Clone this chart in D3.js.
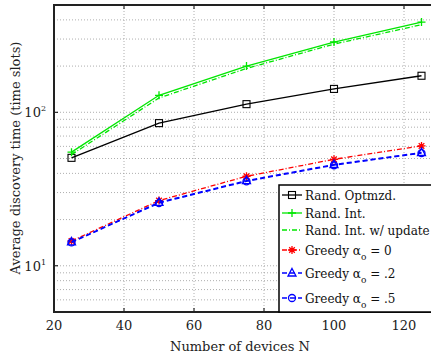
<!DOCTYPE html>
<html>
<head>
<meta charset="utf-8">
<script src="https://cdn.jsdelivr.net/npm/d3@7"></script>
<style>
  body { margin: 0; background: #fff; }
  svg { display: block; font-family: "DejaVu Serif", "Liberation Serif", serif; }
</style>
</head>
<body>
<div class="chart"></div>
<script>
const devices = [25, 50, 75, 100, 125];
const randOptmzd = [50.5, 85, 113, 142, 173];
const randInt = [55, 129, 200, 287, 387];
const randIntUpdate = [53, 124, 193, 278, 372];
const greedy0 = [14.5, 26.6, 38.3, 49.4, 60.4];
const greedy2 = [14.3, 25.9, 35.9, 45.7, 54.7];
const greedy5 = [14.2, 25.6, 35.5, 45.2, 54.2];
const xTicks = [20, 40, 60, 80, 100, 120];

const series = [
  { name: "Rand. Optmzd.", values: randOptmzd, color: "#000", dash: null, marker: "square" },
  { name: "Rand. Int.", values: randInt, color: "#00e600", dash: null, marker: "plus" },
  { name: "Rand. Int. w/ update", values: randIntUpdate, color: "#00e600", dash: "5,2,1,2", marker: null },
  { name: "Greedy α|o| = 0", values: greedy0, color: "#ff0000", dash: "5,2,1,2", marker: "star" },
  { name: "Greedy α|o| = .2", values: greedy2, color: "#0000ff", dash: "5,3", marker: "triangle" },
  { name: "Greedy α|o| = .5", values: greedy5, color: "#0000ff", dash: "5,3", marker: "circle" },
];

const width = 431;
const height = 355;
const plotLeft = 54, plotTop = 5, plotBottom = 312;

const svg = d3.select(".chart").append("svg")
  .attr("width", width).attr("height", height);

const xScale = d3.scaleLinear().domain([20, 130]).range([plotLeft, 439]);
const yScale = d3.scaleLog().domain([5, 500]).range([plotBottom, plotTop]);

// gridlines
const minorY = [];
for (const dec of [1, 10, 100]) for (let k = 1; k < 10; k++) {
  const v = k * dec;
  if (v > 5 && v < 500) minorY.push(v);
}
svg.append("g").selectAll("line").data(minorY).join("line")
  .attr("x1", plotLeft).attr("x2", width)
  .attr("y1", d => yScale(d)).attr("y2", d => yScale(d))
  .attr("stroke", "#999").attr("stroke-width", 0.8).attr("stroke-dasharray", "1,2");

svg.append("g").selectAll("line").data(xTicks.slice(1)).join("line")
  .attr("x1", d => xScale(d)).attr("x2", d => xScale(d))
  .attr("y1", plotTop).attr("y2", plotBottom)
  .attr("stroke", "#999").attr("stroke-width", 0.8).attr("stroke-dasharray", "1,2");

// ticks inward
const tickG = svg.append("g").attr("stroke", "#000").attr("stroke-width", 1);
xTicks.slice(1).forEach(t => {
  tickG.append("line").attr("x1", xScale(t)).attr("x2", xScale(t)).attr("y1", plotTop).attr("y2", plotTop + 4);
  tickG.append("line").attr("x1", xScale(t)).attr("x2", xScale(t)).attr("y1", plotBottom).attr("y2", plotBottom - 4);
});
[10, 100].forEach(t => {
  tickG.append("line").attr("x1", plotLeft).attr("x2", plotLeft + 4).attr("y1", yScale(t)).attr("y2", yScale(t));
});

// lines
const line = d3.line().x((d, i) => xScale(devices[i])).y(d => yScale(d));

const drawMarker = (g, type, x, y, color) => {
  const s = 3.5;
  if (type === "square") {
    g.append("rect").attr("x", x - s).attr("y", y - s).attr("width", 2 * s).attr("height", 2 * s)
      .attr("fill", "none").attr("stroke", color).attr("stroke-width", 1.1);
  } else if (type === "plus") {
    g.append("path").attr("d", `M${x - 4},${y}H${x + 4}M${x},${y - 4}V${y + 4}`)
      .attr("stroke", color).attr("stroke-width", 1.3);
  } else if (type === "star") {
    const r = 4;
    let d = `M${x - r},${y}H${x + r}M${x},${y - r}V${y + r}`;
    d += `M${x - r * 0.7},${y - r * 0.7}L${x + r * 0.7},${y + r * 0.7}M${x - r * 0.7},${y + r * 0.7}L${x + r * 0.7},${y - r * 0.7}`;
    g.append("path").attr("d", d).attr("stroke", color).attr("stroke-width", 1.3);
  } else if (type === "triangle") {
    g.append("path").attr("d", `M${x},${y - 4.5}L${x + 4},${y + 3}L${x - 4},${y + 3}Z`)
      .attr("fill", "none").attr("stroke", color).attr("stroke-width", 1.3);
  } else if (type === "circle") {
    g.append("circle").attr("cx", x).attr("cy", y).attr("r", 3.5)
      .attr("fill", "none").attr("stroke", color).attr("stroke-width", 1.3);
  }
};

const plot = svg.append("g");
series.forEach(s => {
  plot.append("path").datum(s.values).attr("d", line)
    .attr("fill", "none").attr("stroke", s.color).attr("stroke-width", 1.3)
    .attr("stroke-dasharray", s.dash);
  if (s.marker) s.values.forEach((v, i) => drawMarker(plot, s.marker, xScale(devices[i]), yScale(v), s.color));
});

// frame
svg.append("path")
  .attr("d", `M${width},${plotTop}H${plotLeft}V${plotBottom}H${width}`)
  .attr("fill", "none").attr("stroke", "#222").attr("stroke-width", 2);

// x tick labels
svg.append("g").selectAll("text").data(xTicks).join("text")
  .attr("x", d => xScale(d)).attr("y", 330)
  .attr("text-anchor", "middle").attr("font-size", 13).attr("fill", "#222")
  .text(d => d);

// y tick labels 10^1, 10^2
[[10, "1"], [100, "2"]].forEach(([v, e]) => {
  const t = svg.append("text").attr("x", 46).attr("y", yScale(v) + 5)
    .attr("text-anchor", "end").attr("font-size", 13).attr("fill", "#222");
  t.append("tspan").text("10");
  t.append("tspan").attr("dy", -6).attr("font-size", 8).text(e);
});

// axis labels
svg.append("text").attr("x", 240).attr("y", 351).attr("text-anchor", "middle")
  .attr("font-size", 13).attr("fill", "#222").text("Number of devices N");
svg.append("text").attr("transform", `translate(20, 158) rotate(-90)`)
  .attr("text-anchor", "middle").attr("font-size", 13).attr("fill", "#222")
  .text("Average discovery time (time slots)");

// legend
const lx = 279, ly = 185;
const legend = svg.append("g");
legend.append("rect").attr("x", lx).attr("y", ly).attr("width", 160).attr("height", plotBottom - ly)
  .attr("fill", "#fff").attr("stroke", "#000").attr("stroke-width", 1.5);
const rowY = [195, 213, 230, 250, 273, 298];
series.forEach((s, i) => {
  const y = rowY[i];
  legend.append("line").attr("x1", lx + 3).attr("x2", lx + 23).attr("y1", y).attr("y2", y)
    .attr("stroke", s.color).attr("stroke-width", 1.3).attr("stroke-dasharray", s.dash);
  if (s.marker) drawMarker(legend, s.marker, lx + 13, y, s.color);
  const parts = s.name.split("|");
  const t = legend.append("text").attr("x", lx + 26).attr("y", y + 4.5)
    .attr("font-size", 12).attr("fill", "#111");
  t.append("tspan").text(parts[0]);
  if (parts.length > 1) {
    t.append("tspan").attr("dy", 5).attr("font-size", 9).text(parts[1]);
    t.append("tspan").attr("dy", -5).text(parts[2]);
  }
});
</script>
</body>
</html>
